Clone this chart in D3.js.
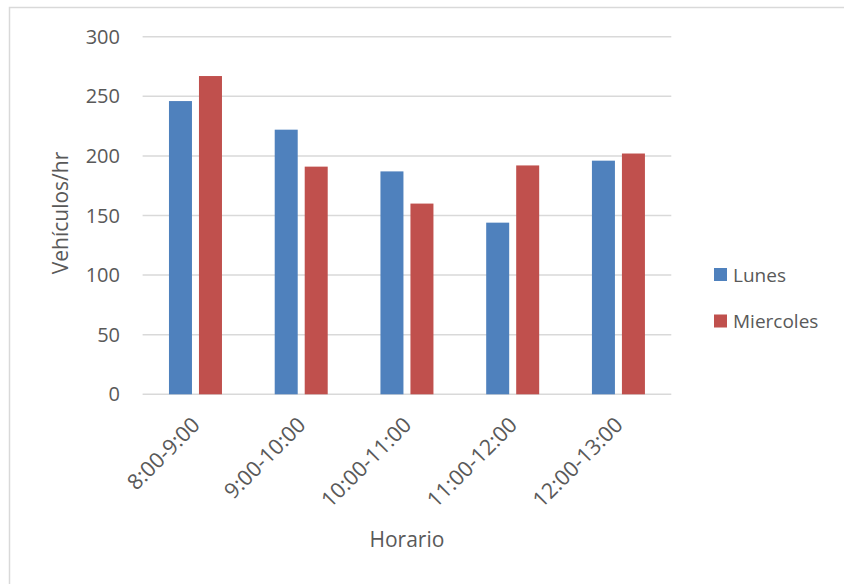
<!DOCTYPE html>
<html>
<head>
<meta charset="utf-8">
<script src="https://cdn.jsdelivr.net/npm/d3@7"></script>
<style>
  html, body { margin: 0; padding: 0; background: #fff; }
  svg text { font-family: "Open Sans", "Liberation Sans", sans-serif; fill: #595959; }
</style>
</head>
<body>
<svg id="chart" width="844" height="584"></svg>
<script>
const categories = ["8:00-9:00", "9:00-10:00", "10:00-11:00", "11:00-12:00", "12:00-13:00"];
const seriesNames = ["Lunes", "Miercoles"];
const lunes = [246, 222, 187, 144, 196];
const miercoles = [267, 191, 160, 192, 202];
const yTicks = [0, 50, 100, 150, 200, 250, 300];
const colors = ["#4F81BD", "#C0504D"];
const yTitle = "Vehículos/hr";
const xTitle = "Horario";

const seriesValues = [lunes, miercoles];
const svg = d3.select("#chart");

// chart border
svg.append("rect")
  .attr("x", 9.5).attr("y", 7.5)
  .attr("width", 900).attr("height", 600)
  .attr("fill", "none").attr("stroke", "#d9d9d9").attr("stroke-width", 1.5);

const plot = { left: 142.6, right: 671.3, top: 36.7, bottom: 394.3 };

const x = d3.scaleBand().domain(categories).range([plot.left, plot.right]).paddingInner(0).paddingOuter(0);
const y = d3.scaleLinear().domain([0, 300]).range([plot.bottom, plot.top]);

const groupW = 53;
const x1 = d3.scaleBand().domain(seriesNames).range([0, groupW]).paddingInner(7 / 30).paddingOuter(0);

// gridlines
svg.append("g").selectAll("line").data(yTicks).join("line")
  .attr("x1", plot.left).attr("x2", plot.right)
  .attr("y1", d => y(d)).attr("y2", d => y(d))
  .attr("stroke", "#d9d9d9").attr("stroke-width", 1.5);

// y tick labels
svg.append("g").selectAll("text").data(yTicks).join("text")
  .attr("x", 120).attr("y", d => y(d))
  .attr("dy", "0.35em")
  .attr("text-anchor", "end")
  .style("font-size", "20px")
  .text(d => d);

// bars
seriesNames.forEach((s, si) => {
  svg.append("g").selectAll("rect").data(categories).join("rect")
    .attr("x", c => x(c) + x.bandwidth() / 2 - groupW / 2 + x1(s))
    .attr("y", (c, i) => y(seriesValues[si][i]))
    .attr("width", x1.bandwidth())
    .attr("height", (c, i) => y(0) - y(seriesValues[si][i]))
    .attr("fill", colors[si]);
});

// x tick labels
svg.append("g").selectAll("text").data(categories).join("text")
  .attr("transform", c => `translate(${x(c) + x.bandwidth() / 2 + 0.5},${421}) rotate(-45)`)
  .attr("dy", "0.35em")
  .attr("text-anchor", "end")
  .style("font-size", "21.5px")
  .text(c => c);

// axis titles
svg.append("text")
  .attr("transform", `translate(${61},${213}) rotate(-90)`)
  .attr("text-anchor", "middle")
  .attr("dy", "0.35em")
  .style("font-size", "21px")
  .text(yTitle);

svg.append("text")
  .attr("x", (plot.left + plot.right) / 2).attr("y", 540)
  .attr("text-anchor", "middle")
  .attr("dy", "0.35em")
  .style("font-size", "21px")
  .text(xTitle);

// legend
const legend = svg.append("g");
seriesNames.forEach((s, i) => {
  const ly = 275 + i * 46.5;
  legend.append("rect")
    .attr("x", 714).attr("y", ly - 7).attr("width", 13).attr("height", 13)
    .attr("fill", colors[i]);
  legend.append("text")
    .attr("x", 733).attr("y", ly)
    .attr("dy", "0.35em")
    .style("font-size", "19px")
    .text(s);
});
</script>
</body>
</html>
